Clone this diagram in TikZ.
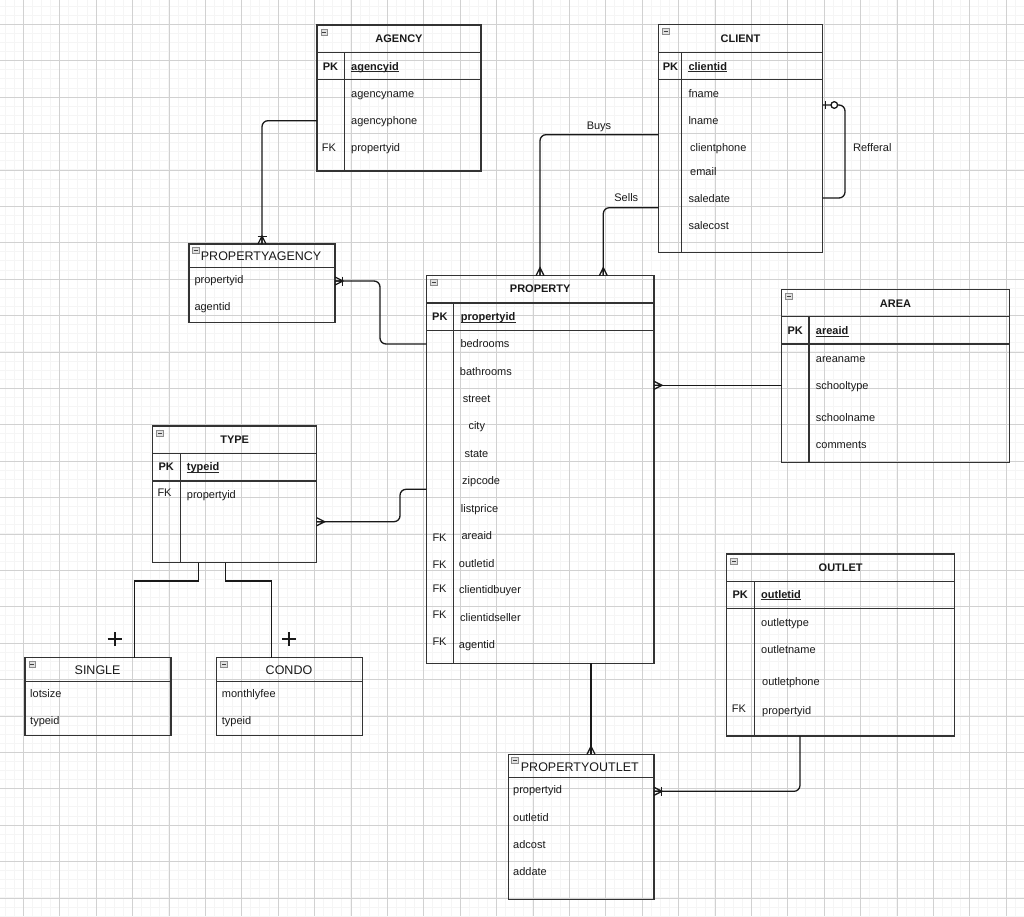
\documentclass[tikz,border=0pt]{standalone}
\usepackage{fontspec}
\setmainfont{Liberation Sans}
\usetikzlibrary{calc}
\newcommand\erFld[4]{\node[fld] (#1) at (#2,#3) {#4};}
\newcommand\erBold[4]{\node[pkf] (#1) at (#2,#3) {#4};}
\newcommand\erUl[4]{\node[pkf] (#1) at (#2,#3) {#4};
  \draw[line width=0.9pt, black!85] ([yshift=-1.6pt]#1.base west) -- ([yshift=-1.6pt]#1.base east);}
\tikzset{
  ebox/.style={draw=black!80, line width=1.4pt, inner sep=0pt, outer sep=0pt, anchor=north west},
  sepline/.style={draw=black!80, line width=1.4pt},
  conn/.style={draw=black!90, line width=1.3pt, rounded corners=6pt},
  sharp/.style={draw=black!90, line width=1.3pt},
  fld/.style={anchor=base west, inner sep=0pt, font=\fontsize{11}{13}\selectfont, text=black!90, yshift=-3.8pt},
  pkf/.style={fld, font=\fontsize{11}{13}\selectfont\bfseries},
  ttl/.style={anchor=base, inner sep=0pt, font=\fontsize{11}{13}\selectfont\bfseries, text=black!90, yshift=-3.9pt},
  ttlr/.style={anchor=base west, inner sep=0pt, font=\fontsize{12.5}{15}\selectfont, text=black!90, yshift=-4.5pt},
  ttlc/.style={anchor=base, inner sep=0pt, font=\fontsize{12.5}{15}\selectfont, text=black!90, yshift=-4.5pt},
  lbl/.style={anchor=base, inner sep=0pt, font=\fontsize{11}{13}\selectfont, text=black!90, yshift=-3.8pt},
  pics/crowS/.style={code={\draw[sharp] (-4,0) -- (0,-8) -- (4,0) (0,0) -- (0,-8);}},
  pics/crowW/.style={code={\draw[sharp] (0,-4) -- (8,0) -- (0,4) (0,0) -- (8,0);}},
  pics/barS/.style={code={\draw[sharp] (-4.5,-7.5) -- (4.5,-7.5);}},
  pics/barW/.style={code={\draw[sharp] (7.5,-4.5) -- (7.5,4.5);}},
  pics/zeroone/.style={code={\draw[sharp] (2.6,-4) -- (2.6,4); \draw[sharp, fill=white] (11.6,0) circle[radius=3.3pt];}},
  pics/minus/.style={code={\draw[draw=black!45, fill=black!12, line width=0.6pt] (4,4) rectangle (10.5,10);
     \draw[black!75, line width=0.9pt] (5.3,7) -- (9.2,7);}},
}
\begin{document}
\begin{tikzpicture}[x=1pt,y=-1pt]
\useasboundingbox (0,0) rectangle (1024,916);
% grid
\foreach \j in {-2,...,110} {\draw[black!4, line width=1pt] (23.3+9.1*\j,0) -- (23.3+9.1*\j,916);}
\foreach \j in {-2,...,98} {\draw[black!4, line width=1pt] (0,24.3+9.1*\j) -- (1024,24.3+9.1*\j);}
\foreach \k in {0,...,27} {\draw[black!18, line width=0.8pt] (23.3+36.4*\k,0) -- (23.3+36.4*\k,916);}
\foreach \k in {0,...,24} {\draw[black!18, line width=0.8pt] (0,24.3+36.4*\k) -- (1024,24.3+36.4*\k);}

% ===== AGENCY =====
\node[ebox, minimum width=164pt, minimum height=146pt] (agency) at (317,25) {};
\draw[sepline] (agency.west |- 0,52.3) -- (agency.east |- 0,52.3);
\draw[sepline] (agency.west |- 0,79.7) -- (agency.east |- 0,79.7);
\draw[sepline] (344.3,52.3) -- (agency.south -| 344.3,0);
\pic at (agency.north west) {minus};
\node[ttl] (agencyT) at (399,38.7) {AGENCY};
\erBold{agPK}{322.7}{66.3}{PK}
\erUl{agId}{351}{66.3}{agencyid}
\erFld{agName}{351}{94}{agencyname}
\erFld{agPhone}{351}{120.7}{agencyphone}
\erFld{agFK}{321.7}{148}{FK}
\erFld{agProp}{351}{148}{propertyid}

% ===== CLIENT =====
\node[ebox, minimum width=164.4pt, minimum height=228pt] (client) at (658.3,24.7) {};
\draw[sepline] (client.west |- 0,52.3) -- (client.east |- 0,52.3);
\draw[sepline] (client.west |- 0,79.7) -- (client.east |- 0,79.7);
\draw[sepline] (681.3,52.3) -- (client.south -| 681.3,0);
\pic at (client.north west) {minus};
\node[ttl] (clientT) at (740.5,38.7) {CLIENT};
\erBold{clPK}{662.7}{66.3}{PK}
\erUl{clId}{688.3}{66.3}{clientid}
\erFld{clF}{688.3}{94}{fname}
\erFld{clL}{688.3}{120.7}{lname}
\erFld{clPh}{690}{148}{clientphone}
\erFld{clEm}{690}{171.3}{email}
\erFld{clSd}{688.3}{198.3}{saledate}
\erFld{clSc}{688.3}{225.3}{salecost}

% ===== PROPERTYAGENCY =====
\node[ebox, minimum width=146pt, minimum height=78.3pt] (pa) at (189,244) {};
\draw[sepline] (pa.west |- 0,267.7) -- (pa.east |- 0,267.7);
\pic at ([xshift=-0.6pt,yshift=0.8pt]pa.north west) {minus};
\node[ttlr] (paT) at (200.7,256.3) {PROPERTYAGENCY};
\erFld{paProp}{194.3}{279.3}{propertyid}
\erFld{paAg}{194.3}{306.7}{agentid}

% ===== PROPERTY =====
\node[ebox, minimum width=227.7pt, minimum height=387.6pt] (property) at (426.3,275.7) {};
\draw[sepline] (property.west |- 0,303) -- (property.east |- 0,303);
\draw[sepline] (property.west |- 0,330.3) -- (property.east |- 0,330.3);
\draw[sepline] (453.3,303) -- (property.south -| 453.3,0);
\pic at (property.north west) {minus};
\node[ttl] (propertyT) at (540.2,289) {PROPERTY};
\erBold{prPK}{432}{316.7}{PK}
\erUl{prId}{460.7}{316.7}{propertyid}
\erFld{prBed}{460.3}{344}{bedrooms}
\erFld{prBath}{459.7}{371.7}{bathrooms}
\erFld{prStreet}{462.7}{399}{street}
\erFld{prCity}{468.3}{426}{city}
\erFld{prState}{464.3}{453.3}{state}
\erFld{prZip}{462}{481}{zipcode}
\erFld{prList}{460.7}{508.3}{listprice}
\erFld{prArea}{461.3}{536}{areaid}
\erFld{prOut}{458.7}{563.3}{outletid}
\erFld{prBuy}{459}{590}{clientidbuyer}
\erFld{prSell}{460}{617.7}{clientidseller}
\erFld{prAgent}{458.7}{645}{agentid}
\erFld{prFKa}{432.3}{537.7}{FK}
\erFld{prFKb}{432.3}{565}{FK}
\erFld{prFKc}{432.3}{589}{FK}
\erFld{prFKd}{432.3}{615}{FK}
\erFld{prFKe}{432.3}{641.7}{FK}

% ===== AREA =====
\node[ebox, minimum width=227.6pt, minimum height=173pt] (area) at (781.7,289.3) {};
\draw[sepline] (area.west |- 0,316.7) -- (area.east |- 0,316.7);
\draw[sepline] (area.west |- 0,344) -- (area.east |- 0,344);
\draw[sepline] (809,316.7) -- (area.south -| 809,0);
\pic at (area.north west) {minus};
\node[ttl] (areaT) at (895.5,303.3) {AREA};
\erBold{arPK}{787.3}{330.7}{PK}
\erUl{arId}{815.7}{330.7}{areaid}
\erFld{arName}{815.7}{358.7}{areaname}
\erFld{arSt}{815.7}{386}{schooltype}
\erFld{arSn}{815.7}{417.3}{schoolname}
\erFld{arCom}{815.7}{445}{comments}

% ===== TYPE =====
\node[ebox, minimum width=164pt, minimum height=136.7pt] (type) at (152.7,426) {};
\draw[sepline] (type.west |- 0,453.7) -- (type.east |- 0,453.7);
\draw[sepline] (type.west |- 0,481) -- (type.east |- 0,481);
\draw[sepline] (180.3,453.7) -- (type.south -| 180.3,0);
\pic at (type.north west) {minus};
\node[ttl] (typeT) at (234.7,439.7) {TYPE};
\erBold{tyPK}{158.3}{467}{PK}
\erUl{tyId}{186.7}{467}{typeid}
\erFld{tyFK}{157.3}{492.3}{FK}
\erFld{tyProp}{186.7}{495}{propertyid}

% ===== SINGLE =====
\node[ebox, minimum width=146pt, minimum height=78pt] (single) at (25,657.7) {};
\draw[sepline] (single.west |- 0,681.3) -- (single.east |- 0,681.3);
\pic at (single.north west) {minus};
\node[ttlc] (singleT) at (97.6,669.7) {SINGLE};
\erFld{siLot}{30}{694}{lotsize}
\erFld{siType}{30}{720.7}{typeid}

% ===== CONDO =====
\node[ebox, minimum width=145.6pt, minimum height=78pt] (condo) at (216.7,657.7) {};
\draw[sepline] (condo.west |- 0,681.3) -- (condo.east |- 0,681.3);
\pic at (condo.north west) {minus};
\node[ttlc] (condoT) at (289,669.7) {CONDO};
\erFld{coFee}{221.7}{694}{monthlyfee}
\erFld{coType}{221.7}{720.7}{typeid}

% ===== OUTLET =====
\node[ebox, minimum width=228pt, minimum height=182pt] (outlet) at (726.7,554) {};
\draw[sepline] (outlet.west |- 0,581.3) -- (outlet.east |- 0,581.3);
\draw[sepline] (outlet.west |- 0,608.7) -- (outlet.east |- 0,608.7);
\draw[sepline] (754.3,581.3) -- (outlet.south -| 754.3,0);
\pic at (outlet.north west) {minus};
\node[ttl] (outletT) at (840.7,567.7) {OUTLET};
\erBold{ouPK}{732.3}{594.3}{PK}
\erUl{ouId}{761}{594.3}{outletid}
\erFld{ouType}{761}{622.3}{outlettype}
\erFld{ouName}{761}{649.7}{outletname}
\erFld{ouPhone}{762}{681.3}{outletphone}
\erFld{ouFK}{731.7}{709}{FK}
\erFld{ouProp}{762}{710.3}{propertyid}

% ===== PROPERTYOUTLET =====
\node[ebox, minimum width=145.7pt, minimum height=145pt] (po) at (508.3,754.3) {};
\draw[sepline] (po.west |- 0,777.7) -- (po.east |- 0,777.7);
\pic at ([xshift=-0.6pt,yshift=0.8pt]po.north west) {minus};
\node[ttlr] (poT) at (520.7,766.7) {PROPERTYOUTLET};
\erFld{poProp}{513}{790}{propertyid}
\erFld{poOut}{513}{817.3}{outletid}
\erFld{poCost}{513}{845}{adcost}
\erFld{poDate}{513}{871.7}{addate}

% ===== CONNECTORS =====
% AGENCY -> PROPERTYAGENCY
\draw[conn] (agency.west |- 0,120.7) -| (pa.north);
\pic at (pa.north) {crowS};
\pic at (pa.north) {barS};
% PROPERTY -> PROPERTYAGENCY
\draw[conn] (property.west |- 0,344) -| (380,312) |- (pa.east |- 0,281);
\pic at (pa.east |- 0,281) {crowW};
\pic at (pa.east |- 0,281) {barW};
% Buys
\draw[conn] (client.west |- 0,134.7) -| (property.north -| 540,0);
\pic at (property.north -| 540,0) {crowS};
\node[lbl] (buysL) at (599,126) {Buys};
% Sells
\draw[conn] (client.west |- 0,207.7) -| (property.north -| 603.3,0);
\pic at (property.north -| 603.3,0) {crowS};
\node[lbl] (sellsL) at (626.3,198) {Sells};
% Refferal
\draw[conn] (client.east |- 0,105) -| (845,150) |- (client.east |- 0,198);
\pic at (client.east |- 0,105) {zeroone};
\node[lbl] (refL) at (872.3,148) {Refferal};
% AREA -> PROPERTY
\draw[conn] (area.west |- 0,385.3) -- (property.east |- 0,385.3);
\pic at (property.east |- 0,385.3) {crowW};
% PROPERTY -> TYPE
\draw[conn] (property.west |- 0,489.3) -| (400,505) |- (type.east |- 0,521.7);
\pic at (type.east |- 0,521.7) {crowW};
% PROPERTY -> PROPERTYOUTLET
\draw[conn] (property.south -| 591,0) -- (po.north -| 591,0);
\pic at (po.north -| 591,0) {crowS};
% OUTLET -> PROPERTYOUTLET
\draw[conn] (outlet.south -| 800,0) |- (po.east |- 0,791.3);
\pic at (po.east |- 0,791.3) {crowW};
\pic at (po.east |- 0,791.3) {barW};
% TYPE -> SINGLE / CONDO
\draw[sharp] (type.south -| 198.3,0) |- (160,581) -| (single.north -| 134.3,0);
\draw[sharp] (type.south -| 225.7,0) |- (250,581) -| (condo.north -| 271.7,0);
\draw[line width=2pt, black!90] (107.7,639) -- (121.7,639) (114.7,632) -- (114.7,646);
\draw[line width=2pt, black!90] (282,639) -- (296,639) (289,632) -- (289,646);
\end{tikzpicture}
\end{document}
